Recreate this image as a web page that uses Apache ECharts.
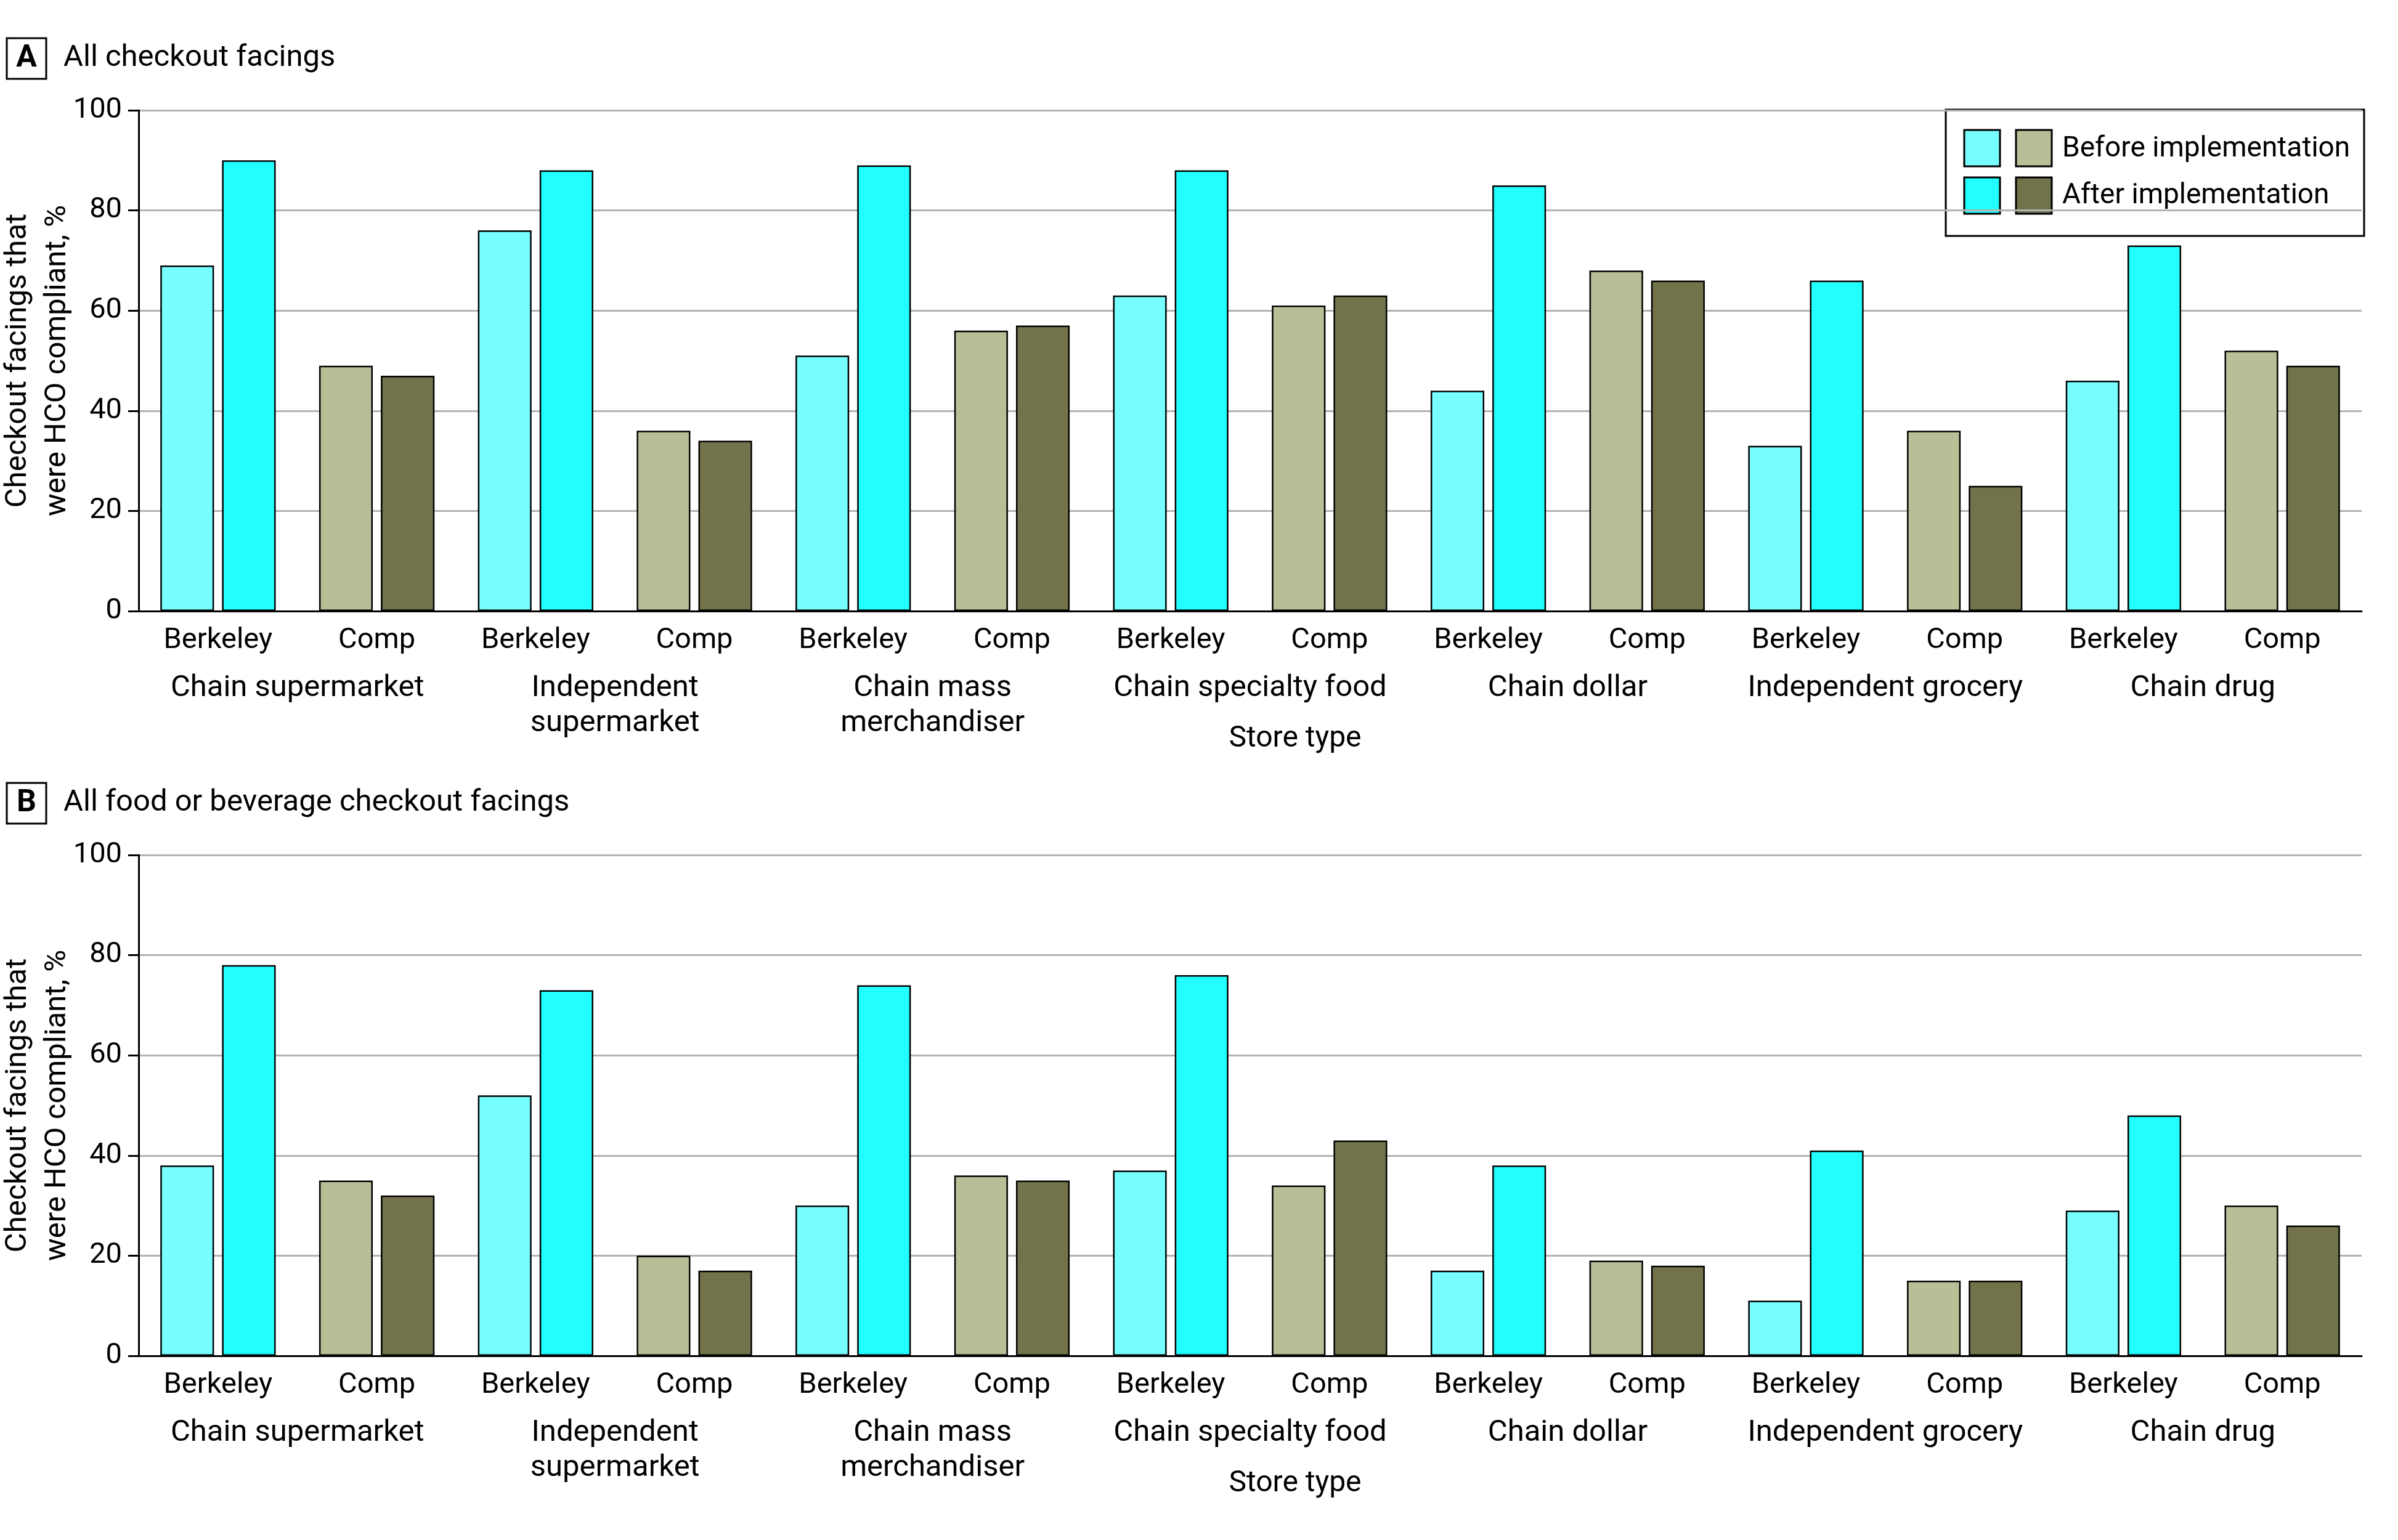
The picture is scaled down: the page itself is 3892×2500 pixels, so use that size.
<!DOCTYPE html>
<html>
<head>
<meta charset="utf-8">
<script src="https://cdn.jsdelivr.net/npm/echarts@6/dist/echarts.min.js"></script>
<style>html,body{margin:0;padding:0;background:#fff;}#c{width:3892px;height:2500px;}</style>
</head>
<body>
<div id="c"></div>
<script>
// ---- data ----
const storeTypes = ['Chain supermarket', 'Independent\nsupermarket', 'Chain mass\nmerchandiser', 'Chain specialty food', 'Chain dollar', 'Independent grocery', 'Chain drug'];
const groups = ['Berkeley', 'Comp'];
const yTicks = [0, 20, 40, 60, 80, 100];
// values in order: Berkeley, Comp for each store type
const allBefore = [69, 49, 76, 36, 51, 56, 63, 61, 44, 68, 33, 36, 46, 52];
const allAfter  = [90, 47, 88, 34, 89, 57, 88, 63, 85, 66, 66, 25, 73, 49];
const foodBefore = [38, 35, 52, 20, 30, 36, 37, 34, 17, 19, 11, 15, 29, 30];
const foodAfter  = [78, 32, 73, 17, 74, 35, 76, 43, 38, 18, 41, 15, 48, 26];
const panelTitles = ['All checkout facings', 'All food or beverage checkout facings'];
const panelLetters = ['A', 'B'];
const legendNames = ['Before implementation', 'After implementation'];
const yName = 'Checkout facings that\nwere HCO compliant, %';
const xName = 'Store type';

// ---- styles ----
const FONT = 'Roboto, "Noto Sans", sans-serif';
const COL = {
  berkBefore: '#77FFFF', berkAfter: '#22FFFF',
  compBefore: '#B8BF96', compAfter: '#73734B'
};
const categories = [];
storeTypes.forEach(() => groups.forEach(g => categories.push(g)));

const panelTop = [179, 1388];
const gridH = 813;

const grids = [], xAxes = [], yAxes = [], series = [], titles = [];
panelTop.forEach((top, p) => {
  grids.push({ left: 225, right: 59, top: top, height: gridH, containLabel: false, outerBoundsMode: 'none' });
  xAxes.push({
    type: 'category', gridIndex: p, position: 'bottom', data: categories,
    axisLine: { show: true, lineStyle: { color: '#000', width: 3 } },
    axisTick: { show: false },
    axisLabel: { fontFamily: FONT, fontSize: 47, color: '#000', margin: 20, lineHeight: 57, interval: 0 },
    splitLine: { show: false }, z: 5
  });
  xAxes.push({
    type: 'category', gridIndex: p, position: 'bottom', data: storeTypes,
    axisLine: { show: false }, axisTick: { show: false },
    axisLabel: { fontFamily: FONT, fontSize: 49, color: '#000', margin: 97, lineHeight: 57, interval: 0 },
    splitLine: { show: false },
    name: xName, nameLocation: 'middle', nameGap: 179, nameMoveOverlap: false,
    nameTextStyle: { fontFamily: FONT, fontSize: 48, color: '#000', lineHeight: 57, padding: [0, 0, 0, 146] }
  });
  yAxes.push({
    type: 'value', gridIndex: p, min: 0, max: 100, interval: 20,
    axisLine: { show: true, lineStyle: { color: '#000', width: 3 } },
    axisTick: { show: true, length: 17, lineStyle: { color: '#000', width: 3 } },
    axisLabel: { fontFamily: FONT, fontSize: 47, color: '#000', margin: 27 },
    splitLine: { show: true, lineStyle: { color: '#b3b3b3', width: 3 } },
    name: yName, nameLocation: 'middle', nameRotate: 90, nameGap: 99, nameMoveOverlap: false,
    nameTextStyle: { fontFamily: FONT, fontSize: 49, color: '#000', lineHeight: 64, align: 'center' }
  });
  const before = p === 0 ? allBefore : foodBefore;
  const after = p === 0 ? allAfter : foodAfter;
  series.push({
    name: legendNames[0], type: 'bar', xAxisIndex: p * 2, yAxisIndex: p, data: before,
    barWidth: '33.8%', barGap: '15%',
    itemStyle: { color: prm => prm.dataIndex % 2 === 0 ? COL.berkBefore : COL.compBefore, borderColor: '#000', borderWidth: 2.5 },
    z: 3
  });
  series.push({
    name: legendNames[1], type: 'bar', xAxisIndex: p * 2, yAxisIndex: p, data: after,
    barWidth: '33.8%', barGap: '15%',
    itemStyle: { color: prm => prm.dataIndex % 2 === 0 ? COL.berkAfter : COL.compAfter, borderColor: '#000', borderWidth: 2.5 },
    z: 3
  });
  titles.push({
    left: 11, top: top - 117, padding: 0,
    text: '{box|' + panelLetters[p] + '}{txt|' + panelTitles[p] + '}',
    textStyle: {
      fontWeight: 'normal',
      rich: {
        box: { fontFamily: FONT, fontWeight: 'bold', fontSize: 50, color: '#000', borderColor: '#000', borderWidth: 3,
               width: 64, height: 66, lineHeight: 66, align: 'center' },
        txt: { fontFamily: FONT, fontWeight: 'normal', fontSize: 49, color: '#000', padding: [0, 0, 0, 28] }
      }
    }
  });
});

// legend box (two swatches per row)
const lg = { x: 3158, y: 178, w: 679, h: 205 };
const legendGraphic = {
  type: 'group', z: 100, children: [
    { type: 'rect', shape: { x: lg.x, y: lg.y, width: lg.w, height: lg.h }, style: { fill: '#fff', stroke: '#000', lineWidth: 3 } },
    { type: 'rect', shape: { x: 3188, y: 211, width: 58, height: 59 }, style: { fill: COL.berkBefore, stroke: '#000', lineWidth: 3 } },
    { type: 'rect', shape: { x: 3272, y: 211, width: 58, height: 59 }, style: { fill: COL.compBefore, stroke: '#000', lineWidth: 3 } },
    { type: 'rect', shape: { x: 3188, y: 288, width: 58, height: 59 }, style: { fill: COL.berkAfter, stroke: '#000', lineWidth: 3 } },
    { type: 'rect', shape: { x: 3272, y: 288, width: 58, height: 59 }, style: { fill: COL.compAfter, stroke: '#000', lineWidth: 3 } },
    { type: 'text', x: 3347, y: 242, style: { text: legendNames[0], font: '46px ' + FONT, fill: '#000', verticalAlign: 'middle' } },
    { type: 'text', x: 3347, y: 318, style: { text: legendNames[1], font: '46px ' + FONT, fill: '#000', verticalAlign: 'middle' } }
  ]
};

const chart = echarts.init(document.getElementById('c'), null, { renderer: 'canvas', width: 3892, height: 2500 });
chart.setOption({
  animation: false,
  backgroundColor: '#fff',
  title: titles,
  grid: grids,
  xAxis: xAxes,
  yAxis: yAxes,
  series: series,
  graphic: [legendGraphic]
});
</script>
</body>
</html>
